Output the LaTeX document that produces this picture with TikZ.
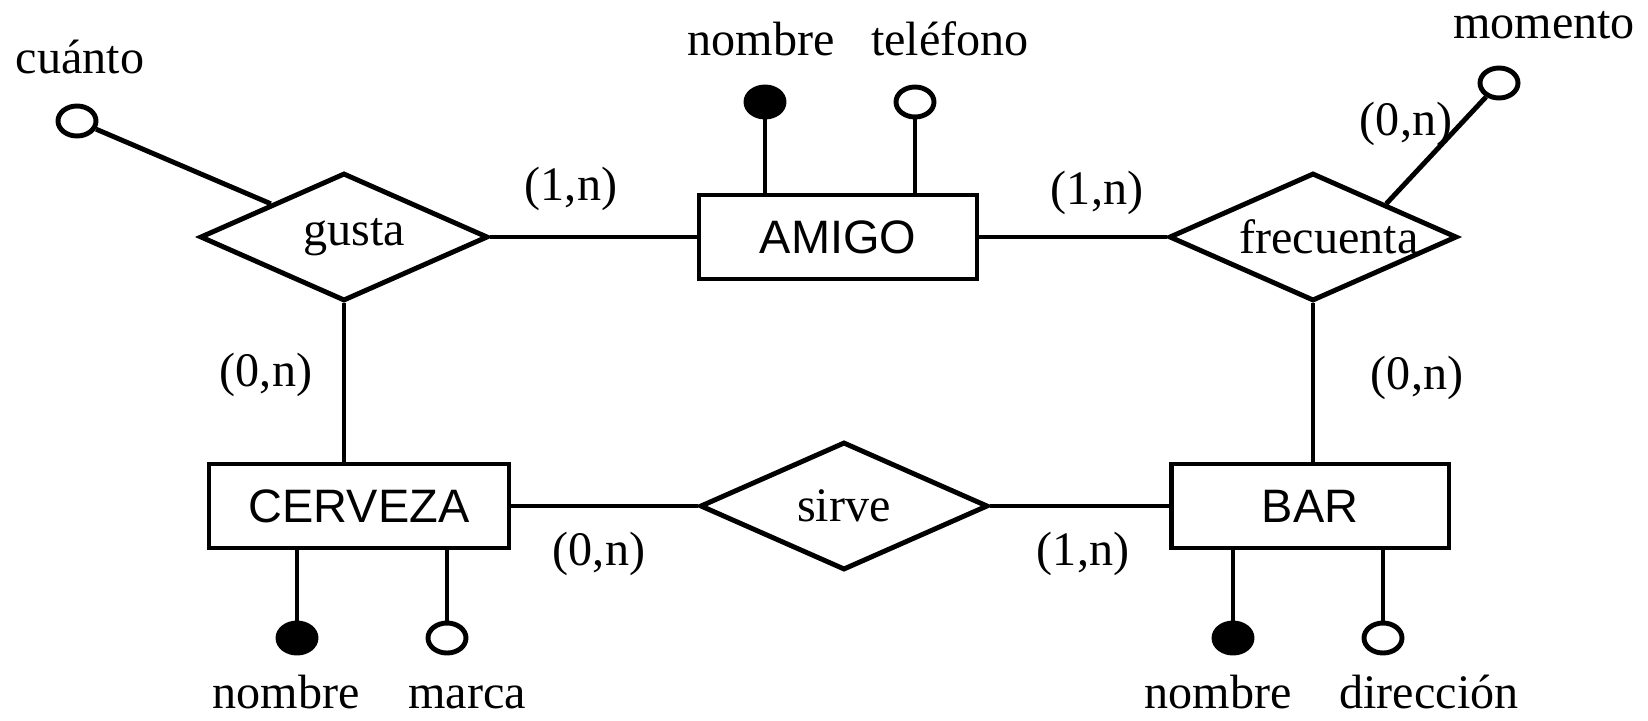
\documentclass[tikz,border=0pt]{standalone}
\usepackage{fontspec}
\setmainfont{Liberation Serif}
\newfontfamily\entfont{Liberation Sans}
\usetikzlibrary{shapes.geometric}

\tikzset{
  entidad/.style={draw, rectangle, inner sep=0pt, minimum width=5.56cm, minimum height=1.68cm, font=\entfont\fontsize{26.7}{32}\selectfont},
  relacion/.style={draw, diamond, inner sep=0pt, minimum width=5.76cm, minimum height=2.56cm},
  clave/.style={draw, fill=black, ellipse, inner sep=0pt, minimum width=0.76cm, minimum height=0.6cm},
  atributo/.style={draw, fill=white, ellipse, inner sep=0pt, minimum width=0.76cm, minimum height=0.6cm},
  nombre/.style={anchor=base, inner sep=0pt},
  card/.style={inner sep=0pt}
}

\begin{document}
\begin{tikzpicture}[x=0.02cm, y=-0.02cm, line width=2.8pt, font=\fontsize{27.4}{32}\selectfont]
\useasboundingbox (0,0) rectangle (1648,720);

% entidades y relaciones
\node[entidad] (amigo) at (838,237) {AMIGO};
\node[entidad, minimum width=6cm] (cerveza) at (359,506) {CERVEZA};
\node[entidad] (bar) at (1310,506) {BAR};
\node[relacion, label={[xshift=0.21cm]center:gusta}] (gusta) at (344,237) {};
\node[relacion, label={[xshift=0.32cm]center:frecuenta}] (frecuenta) at (1313,237) {};
\node[relacion, label={center:sirve}] (sirve) at (844,506) {};

\draw (gusta.east) -- (amigo.west);
\draw (amigo.east) -- (frecuenta.west);
\draw (gusta.south) -- (gusta.south |- cerveza.north);
\draw (frecuenta.south) -- (frecuenta.south |- bar.north);
\draw (cerveza.east) -- (sirve.west);
\draw (sirve.east) -- (bar.west);

% atributos
\node[atributo] (cuanto) at (77,121) {};
\node[atributo] (momento) at (1499,83) {};
\node[clave] (nomamigo) at (765,102) {};
\node[atributo] (telefono) at (915,102) {};
\node[clave] (nomcerveza) at (297,638) {};
\node[atributo] (marca) at (447,638) {};
\node[clave] (nombar) at (1233,638) {};
\node[atributo] (direccion) at (1383,638) {};

\draw (cuanto) -- (gusta.north west);
\draw (momento) -- (frecuenta.north east);
\draw (nomamigo |- amigo.north) -- (nomamigo);
\draw (telefono |- amigo.north) -- (telefono);
\draw (nomcerveza |- cerveza.south) -- (nomcerveza);
\draw (marca |- cerveza.south) -- (marca);
\draw (nombar |- bar.south) -- (nombar);
\draw (direccion |- bar.south) -- (direccion);

\node[nombre] (tcuanto) at (80,73) {cuánto};
\node[nombre] (tmomento) at (1544,38) {momento};
\node[nombre] (tnomamigo) at (761,55) {nombre};
\node[nombre] (ttelefono) at (950,55) {teléfono};
\node[nombre] (tnomcerveza) at (286,708) {nombre};
\node[nombre] (tmarca) at (467,708) {marca};
\node[nombre] (tnombar) at (1218,708) {nombre};
\node[nombre] (tdireccion) at (1429,708) {dirección};

% cardinalidades
\node[card] at (571,189) {(1,n)};
\node[card] at (1097,193) {(1,n)};
\node[card] at (1406,124) {(0,n)};
\node[card] at (266,375) {(0,n)};
\node[card] at (1417,378) {(0,n)};
\node[card] at (599,554) {(0,n)};
\node[card] at (1083,554) {(1,n)};
\end{tikzpicture}
\end{document}
